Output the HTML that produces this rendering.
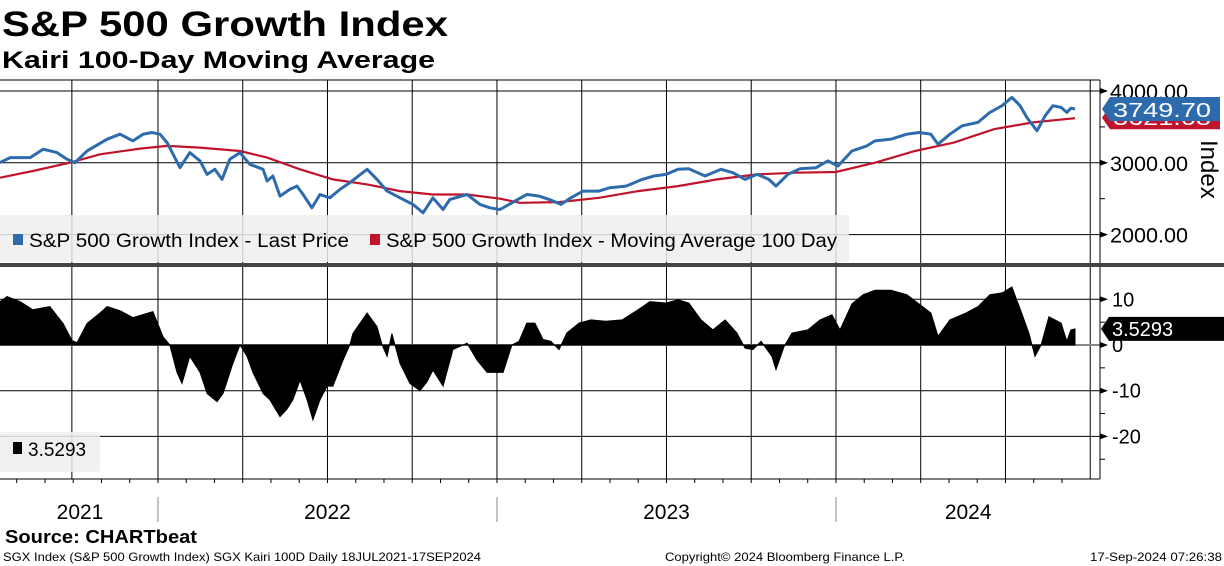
<!DOCTYPE html>
<html><head><meta charset="utf-8"><style>
html,body{margin:0;padding:0;background:#fff;}
svg{display:block;font-family:"Liberation Sans","DejaVu Sans",sans-serif;}
</style></head><body>
<svg id="chart" width="1224" height="566" viewBox="0 0 1224 566" xmlns="http://www.w3.org/2000/svg">
<text x="2" y="36" font-size="35" font-weight="bold" textLength="446" lengthAdjust="spacingAndGlyphs">S&amp;P 500 Growth Index</text>
<text x="2" y="68" font-size="24" font-weight="bold" textLength="433" lengthAdjust="spacingAndGlyphs">Kairi 100-Day Moving Average</text>
<g id="grid"></g>
<g id="upper"></g>
<g id="lower"></g>
<g id="axes"></g>
<text x="5" y="543" font-size="18" font-weight="bold" textLength="192" lengthAdjust="spacingAndGlyphs">Source: CHARTbeat</text>
<text x="3" y="561" font-size="12" textLength="478" lengthAdjust="spacingAndGlyphs">SGX Index (S&amp;P 500 Growth Index) SGX Kairi 100D  Daily 18JUL2021-17SEP2024</text>
<text x="665" y="561" font-size="12" textLength="240" lengthAdjust="spacingAndGlyphs">Copyright© 2024 Bloomberg Finance L.P.</text>
<text x="1090" y="561" font-size="12" textLength="132" lengthAdjust="spacingAndGlyphs">17-Sep-2024 07:26:38</text>
</svg>
<script>
// ---- data ----
const priceDates=[2021.534,2021.564,2021.623,2021.661,2021.702,2021.732,2021.755,2021.791,2021.850,2021.888,2021.926,2021.956,2021.982,2022.006,2022.027,2022.065,2022.094,2022.124,2022.145,2022.168,2022.189,2022.212,2022.242,2022.271,2022.310,2022.322,2022.339,2022.360,2022.389,2022.410,2022.428,2022.454,2022.478,2022.507,2022.537,2022.566,2022.617,2022.646,2022.676,2022.714,2022.752,2022.782,2022.811,2022.841,2022.861,2022.912,2022.950,2022.979,2023.009,2023.044,2023.088,2023.124,2023.159,2023.189,2023.218,2023.254,2023.301,2023.333,2023.381,2023.428,2023.463,2023.499,2023.534,2023.566,2023.614,2023.661,2023.696,2023.732,2023.767,2023.802,2023.823,2023.858,2023.894,2023.941,2023.976,2024.006,2024.047,2024.091,2024.115,2024.162,2024.209,2024.245,2024.280,2024.301,2024.336,2024.372,2024.419,2024.454,2024.490,2024.519,2024.543,2024.563,2024.593,2024.617,2024.640,2024.664,2024.681,2024.693,2024.705];
const priceValues=[3002,3072,3072,3189,3142,3049,3002,3166,3329,3399,3305,3399,3422,3399,3282,2932,3142,3026,2839,2909,2769,3049,3142,2979,2909,2746,2816,2536,2629,2676,2559,2373,2559,2513,2629,2723,2909,2769,2606,2513,2420,2303,2513,2350,2490,2559,2420,2373,2350,2443,2560,2536,2480,2420,2513,2606,2606,2653,2676,2769,2816,2839,2909,2918,2816,2909,2862,2769,2839,2769,2676,2839,2918,2932,3026,2956,3165,3235,3305,3329,3399,3422,3399,3259,3399,3515,3562,3702,3795,3911,3795,3632,3445,3655,3795,3772,3702,3760,3749.70];
const maDates=[2021.534,2021.631,2021.740,2021.829,2021.947,2022.027,2022.124,2022.242,2022.322,2022.419,2022.516,2022.617,2022.714,2022.811,2022.912,2023.009,2023.068,2023.183,2023.301,2023.416,2023.534,2023.649,2023.767,2023.882,2024.000,2024.115,2024.233,2024.348,2024.466,2024.581,2024.705];
const maValues=[2793,2886,3002,3119,3198,3235,3212,3165,3072,2909,2769,2699,2606,2559,2559,2500,2443,2452,2513,2606,2676,2769,2839,2862,2872,3002,3165,3282,3468,3562,3621];
const kairiDates=[2021.534,2021.555,2021.593,2021.631,2021.681,2021.720,2021.746,2021.761,2021.791,2021.829,2021.850,2021.888,2021.926,2021.985,2022.015,2022.035,2022.056,2022.071,2022.094,2022.124,2022.145,2022.174,2022.192,2022.221,2022.242,2022.263,2022.280,2022.310,2022.330,2022.360,2022.381,2022.398,2022.419,2022.440,2022.457,2022.478,2022.499,2022.516,2022.546,2022.566,2022.575,2022.617,2022.646,2022.661,2022.676,2022.690,2022.714,2022.743,2022.773,2022.794,2022.811,2022.841,2022.870,2022.912,2022.941,2022.971,2023.000,2023.018,2023.044,2023.065,2023.088,2023.112,2023.136,2023.159,2023.183,2023.206,2023.242,2023.277,2023.321,2023.369,2023.416,2023.451,2023.499,2023.534,2023.566,2023.602,2023.637,2023.673,2023.708,2023.732,2023.755,2023.779,2023.811,2023.823,2023.847,2023.870,2023.917,2023.953,2023.988,2024.012,2024.047,2024.080,2024.115,2024.162,2024.209,2024.245,2024.280,2024.301,2024.336,2024.384,2024.419,2024.454,2024.490,2024.519,2024.546,2024.569,2024.587,2024.605,2024.628,2024.664,2024.681,2024.693,2024.705];
const kairiValues=[9.5,10.6,9.5,7.7,8.4,4.7,1,0.5,4.7,7,8.4,7.5,6,7.3,1.8,0,-6,-8.4,-2.5,-6,-10.6,-12.4,-10.6,-4,0,-2.5,-6,-10.6,-12,-15.7,-14,-12,-7.7,-12,-16.4,-12,-9,-9,-3.3,0,2.5,7,4,0,-2.5,2.5,-4,-8.4,-10,-8,-5.5,-9,-1,0.4,-3.3,-6,-6,-6,0,0.8,4.8,4.8,1.2,0.8,-1,2.6,4.8,5.5,5.2,5.5,7.7,9.5,9.2,9.9,9.2,5.5,3.3,5.5,2.6,-0.7,-1,0.8,-2.5,-5.4,-0.3,2.6,3.3,5.5,6.6,3.3,9,11,12,12,11,9,7,1.9,5.5,7,8.4,11,11.4,12.7,7.3,2.6,-2.5,0,6.2,4.8,0.8,3.3,3.5293];
const upperTicks=[4000,3000,2000];
const upperTickLabels=["4000.00","3000.00","2000.00"];
const lowerTicks=[10,0,-10,-20];
const lowerTickLabels=["10","0","-10","-20"];
const gridDates=[2021.746,2022.0,2022.25,2022.5,2022.75,2023.0,2023.25,2023.5,2023.75,2024.0,2024.25,2024.5,2024.75];
const yearLabels=["2021","2022","2023","2024"];
const yearCenters=[2021.77,2022.5,2023.5,2024.39];
const yearStarts=[2022.0,2023.0,2024.0];
const lastPrice="3749.70", lastMA="3621.08", lastKairi="3.5293";

// ---- scales ----
const X=t=>(t-2021.534)*339;
const YU=v=>91+(4000-v)*0.0718;
const YL=v=>345-v*4.57;
const NS="http://www.w3.org/2000/svg";
function mk(parent,tag,attrs){const e=document.createElementNS(NS,tag);for(const k in attrs)e.setAttribute(k,attrs[k]);parent.appendChild(e);return e;}
const grid=document.getElementById('grid'),upper=document.getElementById('upper'),lower=document.getElementById('lower'),axes=document.getElementById('axes');

// frame + grid
let e=mk(grid,'line',{x1:0,x2:1100,y1:80,y2:80,stroke:'#000','stroke-width':1});


gridDates.forEach(t=>{
  let g=mk(grid,'line',{x1:X(t),x2:X(t),y1:80,y2:479,stroke:'#000','stroke-width':1});
  
  
});
upperTicks.forEach(v=>{
  let g=mk(grid,'line',{x1:0,x2:1100,y1:YU(v),y2:YU(v),stroke:'#000','stroke-width':1});
  
  
});
lowerTicks.forEach(v=>{
  let g=mk(grid,'line',{x1:0,x2:1100,y1:YL(v),y2:YL(v),stroke:v===0?'#888':'#000','stroke-width':v===0?2:1});
  
  
});

// upper series
let maPts=maDates.map((t,i)=>X(t).toFixed(1)+','+YU(maValues[i]).toFixed(1)).join(' ');
e=mk(upper,'polyline',{points:maPts,fill:'none',stroke:'#c0142c','stroke-width':2.2});


let pPts=priceDates.map((t,i)=>X(t).toFixed(1)+','+YU(priceValues[i]).toFixed(1)).join(' ');
e=mk(upper,'polyline',{points:pPts,fill:'none',stroke:'#2e6bad','stroke-width':3,'stroke-linejoin':'round'});



// upper legend
e=mk(upper,'rect',{x:0,y:215,width:849,height:47,fill:'#eeeeee','fill-opacity':0.85,rx:3});


e=mk(upper,'rect',{x:13,y:234,width:10,height:11,fill:'#2e6bad'});


e=mk(upper,'text',{x:29,y:247,'font-size':19,textLength:320,lengthAdjust:'spacingAndGlyphs'});e.textContent='S&P 500 Growth Index - Last Price';


e=mk(upper,'rect',{x:370,y:234,width:10,height:11,fill:'#c0142c'});


e=mk(upper,'text',{x:386,y:247,'font-size':19,textLength:451,lengthAdjust:'spacingAndGlyphs'});e.textContent='S&P 500 Growth Index - Moving Average 100 Day';



// separator
e=mk(upper,'rect',{x:0,y:263,width:1224,height:4,fill:'#444'});



// lower area
let areaPts=[X(kairiDates[0]).toFixed(1)+','+YL(0)];
kairiDates.forEach((t,i)=>areaPts.push(X(t).toFixed(1)+','+YL(kairiValues[i]).toFixed(1)));
areaPts.push(X(kairiDates[kairiDates.length-1]).toFixed(1)+','+YL(0));
e=mk(lower,'polygon',{points:areaPts.join(' '),fill:'#000',stroke:'#000','stroke-width':1});


e=mk(lower,'rect',{x:0,y:432,width:100,height:40,fill:'#eeeeee','fill-opacity':0.85,rx:3});


e=mk(lower,'rect',{x:13,y:442,width:9,height:12,fill:'#000'});


e=mk(lower,'text',{x:28,y:456,'font-size':19});e.textContent=lastKairi;



// right axes
e=mk(axes,'line',{x1:1100,x2:1100,y1:80,y2:263,stroke:'#000'});


e=mk(axes,'line',{x1:1100,x2:1100,y1:267,y2:479,stroke:'#000'});


[3500,2500].forEach(v=>{let m=mk(axes,'line',{x1:1100,x2:1105,y1:YU(v),y2:YU(v),stroke:'#000'});
  
  });
upperTicks.forEach((v,i)=>{
  let a=mk(axes,'polygon',{points:`1100,${YU(v)-3} 1108,${YU(v)} 1100,${YU(v)+3}`,fill:'#000'});
  
  
  let t=mk(axes,'text',{x:1110,y:YU(v)+8,'font-size':21,textLength:78,lengthAdjust:'spacingAndGlyphs'});t.textContent=upperTickLabels[i];
  
  
});
[5,-5,-15,-25].forEach(v=>{let m=mk(axes,'line',{x1:1100,x2:1105,y1:YL(v),y2:YL(v),stroke:'#000'});
  
  });
lowerTicks.forEach((v,i)=>{
  let a=mk(axes,'polygon',{points:`1100,${YL(v)-3} 1108,${YL(v)} 1100,${YL(v)+3}`,fill:'#000'});
  
  
  let t=mk(axes,'text',{x:1112,y:YL(v)+7,'font-size':20});t.textContent=lowerTickLabels[i];
  
  
});
e=mk(axes,'text',{x:0,y:0,'font-size':24,transform:'translate(1201,140) rotate(90)'});e.textContent='Index';



// value badges
function badge(y,h,fill,txt,name){
  let g=mk(axes,'g',{});
  
  
  mk(g,'polygon',{points:`1102,${y+h/2} 1110,${y} 1220,${y} 1220,${y+h} 1110,${y+h}`,fill:fill});
  let t=mk(g,'text',{x:1113,y:y+h-4,'font-size':20,fill:'#fff',textLength:98,lengthAdjust:'spacingAndGlyphs'});t.textContent=txt;
}
badge(YU(3621)-12,23,'#c0142c',lastMA,'ma-value-badge');
badge(YU(3749.7)-12,24,'#2e6bad',lastPrice,'price-value-badge');
let kb=mk(axes,'g',{});


mk(kb,'polygon',{points:`1101,${YL(3.5293)} 1109,${YL(3.5293)-12} 1224,${YL(3.5293)-12} 1224,${YL(3.5293)+12} 1109,${YL(3.5293)+12}`,fill:'#000'});
e=mk(kb,'text',{x:1112,y:YL(3.5293)+7,'font-size':20,fill:'#fff'});e.textContent=lastKairi;

// x axis
e=mk(axes,'line',{x1:0,x2:1100,y1:479,y2:479,stroke:'#000'});


for(let m=2021+7/12;m<2024.72;m+=1/12){
  let tk=mk(axes,'line',{x1:X(m),x2:X(m),y1:479,y2:483,stroke:'#000'});
  
  
}
yearStarts.forEach(t=>{let s=mk(axes,'line',{x1:X(t),x2:X(t),y1:497,y2:522,stroke:'#888'});
  
  });
yearLabels.forEach((l,i)=>{let t=mk(axes,'text',{x:X(yearCenters[i]),y:519,'font-size':21,'text-anchor':'middle'});t.textContent=l;
  
  });
</script>
</body></html>
